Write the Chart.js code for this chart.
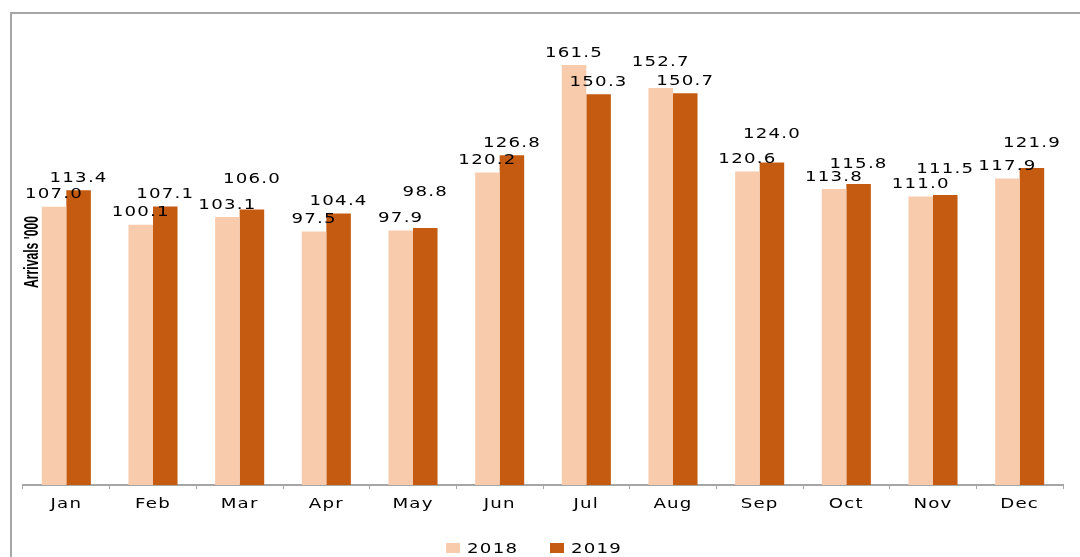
<!DOCTYPE html>
<html>
<head>
<meta charset="utf-8">
<title>Monthly arrivals 2018 and 2019</title>
<script src="https://cdn.jsdelivr.net/npm/chart.js@4.4.1/dist/chart.umd.min.js"></script>
<style>
  html, body { margin: 0; padding: 0; background: #fff; }
  canvas { display: block; }
</style>
</head>
<body>
<canvas id="arrivalsChart" width="1080" height="557"></canvas>
<script>
const months = ["Jan", "Feb", "Mar", "Apr", "May", "Jun", "Jul", "Aug", "Sep", "Oct", "Nov", "Dec"];
const arrivals2018 = [107.0, 100.1, 103.1, 97.5, 97.9, 120.2, 161.5, 152.7, 120.6, 113.8, 111.0, 117.9];
const arrivals2019 = [113.4, 107.1, 106.0, 104.4, 98.8, 126.8, 150.3, 150.7, 124.0, 115.8, 111.5, 121.9];
const seriesNames = ["2018", "2019"];
const yAxisTitle = "Arrivals '000";

// a few value labels sit higher than the rest (extra lift in px)
const labelLift2018 = [0, 0, 0, 0, 0, 0, 0, 14, 0, 0, 0, 0];
const labelLift2019 = [0, 0, 18, 0, 24, 0, 0, 0, 16, 8, 14, 13];

const LIGHT = "#F8CBAD";
const DARK = "#C55A11";
const FRAME = "#a6a6a6";
const TEXT_FONT = '14px "DejaVu Sans"';
const STRETCH = 1.3;
const SPACING = 1.2;

// wide, slightly tracked text used for every label on the chart
function wideText(ctx, str, x, y, align) {
  ctx.save();
  ctx.translate(x, y);
  ctx.scale(STRETCH, 1);
  ctx.letterSpacing = (SPACING / STRETCH) + "px";
  ctx.textAlign = align || "center";
  ctx.fillText(str, 0, 0);
  ctx.restore();
}

function wideWidth(ctx, str) {
  ctx.save();
  ctx.letterSpacing = "0px";
  const w = ctx.measureText(str).width * STRETCH + SPACING * (str.length - 1);
  ctx.restore();
  return w;
}

const decorations = {
  id: "decorations",
  beforeDraw(chart) {
    const ctx = chart.ctx;
    ctx.save();
    ctx.fillStyle = "#fff";
    ctx.fillRect(0, 0, chart.width, chart.height);
    // outer frame, only left and top edges are in view
    ctx.fillStyle = FRAME;
    ctx.fillRect(10, 12, 2, chart.height - 12);
    ctx.fillRect(10, 12, chart.width - 10, 2);
    ctx.restore();
  },
  afterDraw(chart) {
    const ctx = chart.ctx;
    const area = chart.chartArea;
    const xScale = chart.scales.x;
    ctx.save();
    ctx.fillStyle = "#000";
    ctx.font = TEXT_FONT;
    ctx.textBaseline = "alphabetic";

    // month names under the axis
    chart.data.labels.forEach((m, i) => {
      wideText(ctx, m, xScale.getPixelForTick(i), area.bottom + 23);
    });

    // values above the bars
    const lifts = [labelLift2018, labelLift2019];
    chart.data.datasets.forEach((ds, d) => {
      chart.getDatasetMeta(d).data.forEach((bar, i) => {
        wideText(ctx, ds.data[i].toFixed(1), bar.x, bar.y - 8.4 - lifts[d][i]);
      });
    });

    // legend at the bottom
    const box = 14, gap = 7, itemGap = 33;
    const widths = chart.data.datasets.map(ds => wideWidth(ctx, ds.label));
    const total = widths.reduce((a, w) => a + box + gap + w, 0) + itemGap * (widths.length - 1);
    let lx = chart.width / 2 - 6.5 - total / 2;
    const ly = 553;
    chart.data.datasets.forEach((ds, d) => {
      ctx.fillStyle = ds.backgroundColor;
      ctx.fillRect(lx, ly - 10, box, 10);
      ctx.fillStyle = "#000";
      wideText(ctx, ds.label, lx + box + gap, ly, "left");
      lx += box + gap + widths[d] + itemGap;
    });

    // axis title, narrow bold, sitting inside the plot on the left
    ctx.translate(38, (area.top + area.bottom) / 2 + 1);
    ctx.rotate(-Math.PI / 2);
    ctx.scale(0.61, 1);
    ctx.font = 'bold 20px "Liberation Sans"';
    ctx.textAlign = "center";
    ctx.fillText(yAxisTitle, 0, 0);
    ctx.restore();
  }
};

const ctx = document.getElementById("arrivalsChart").getContext("2d");
new Chart(ctx, {
  type: "bar",
  data: {
    labels: months,
    datasets: [
      { label: seriesNames[0], data: arrivals2018, backgroundColor: LIGHT, borderWidth: 0 },
      { label: seriesNames[1], data: arrivals2019, backgroundColor: DARK, borderWidth: 0 }
    ]
  },
  options: {
    responsive: false,
    animation: false,
    layout: { padding: { left: 23, right: 17, top: 17, bottom: 68 } },
    datasets: { bar: { categoryPercentage: 0.566, barPercentage: 1.0 } },
    plugins: {
      legend: { display: false },
      tooltip: { enabled: false }
    },
    scales: {
      x: {
        ticks: { display: false },
        grid: {
          display: true,
          drawOnChartArea: false,
          drawTicks: true,
          tickLength: 4,
          offset: true,
          color: FRAME
        },
        border: { display: true, color: FRAME, width: 2 }
      },
      y: {
        display: false,
        min: 0,
        max: 180
      }
    }
  },
  plugins: [decorations]
});
</script>
</body>
</html>
